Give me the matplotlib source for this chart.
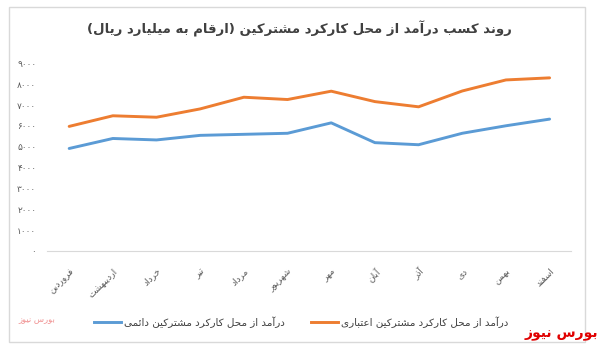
import matplotlib
matplotlib.use("Agg")
import matplotlib.pyplot as plt
from matplotlib.lines import Line2D
from matplotlib.patches import Rectangle

plt.rcParams['font.family'] = ['DejaVu Sans']

# presentation forms: isolated, final, initial, medial (None = does not join forward)
FORMS = {
    'ا': ('\uFE8D', '\uFE8E', None, None),
    'آ': ('\uFE81', '\uFE82', None, None),
    'ب': ('\uFE8F', '\uFE90', '\uFE91', '\uFE92'),
    'ت': ('\uFE95', '\uFE96', '\uFE97', '\uFE98'),
    'ح': ('\uFEA1', '\uFEA2', '\uFEA3', '\uFEA4'),
    'خ': ('\uFEA5', '\uFEA6', '\uFEA7', '\uFEA8'),
    'د': ('\uFEA9', '\uFEAA', None, None),
    'ذ': ('\uFEAB', '\uFEAC', None, None),
    'ر': ('\uFEAD', '\uFEAE', None, None),
    'ز': ('\uFEAF', '\uFEB0', None, None),
    'س': ('\uFEB1', '\uFEB2', '\uFEB3', '\uFEB4'),
    'ش': ('\uFEB5', '\uFEB6', '\uFEB7', '\uFEB8'),
    'ع': ('\uFEC9', '\uFECA', '\uFECB', '\uFECC'),
    'ف': ('\uFED1', '\uFED2', '\uFED3', '\uFED4'),
    'ق': ('\uFED5', '\uFED6', '\uFED7', '\uFED8'),
    'ل': ('\uFEDD', '\uFEDE', '\uFEDF', '\uFEE0'),
    'م': ('\uFEE1', '\uFEE2', '\uFEE3', '\uFEE4'),
    'ن': ('\uFEE5', '\uFEE6', '\uFEE7', '\uFEE8'),
    'ه': ('\uFEE9', '\uFEEA', '\uFEEB', '\uFEEC'),
    'و': ('\uFEED', '\uFEEE', None, None),
    'ئ': ('\uFE89', '\uFE8A', '\uFE8B', '\uFE8C'),
    'ک': ('\uFB8E', '\uFB8F', '\uFB90', '\uFB91'),
    'ی': ('\uFBFC', '\uFBFD', '\uFBFE', '\uFBFF'),
}


def fa(text):
    """Shape Persian text and put it in visual (left-to-right) order."""
    out = []
    for i, ch in enumerate(text):
        if ch not in FORMS:
            out.append(ch)
            continue
        prev = text[i - 1] if i > 0 else ''
        nxt = text[i + 1] if i + 1 < len(text) else ''
        joins_prev = prev in FORMS and FORMS[prev][2] is not None
        joins_next = nxt in FORMS and FORMS[ch][2] is not None
        iso, fin, ini, med = FORMS[ch]
        if joins_prev and joins_next:
            out.append(med)
        elif joins_prev:
            out.append(fin)
        elif joins_next:
            out.append(ini)
        else:
            out.append(iso)
    swap = {'(': ')', ')': '('}
    return ''.join(swap.get(c, c) for c in reversed(out))


def fa_digits(n):
    return str(n).translate(str.maketrans('0123456789', '۰۱۲۳۴۵۶۷۸۹'))


months = ['فروردین', 'اردیبهشت', 'خرداد', 'تیر', 'مرداد', 'شهریور',
          'مهر', 'آبان', 'آذر', 'دی', 'بهمن', 'اسفند']
permanent = [4920, 5400, 5330, 5550, 5600, 5650, 6150, 5200, 5100, 5650, 6010, 6330]
credit = [5980, 6490, 6420, 6820, 7380, 7270, 7670, 7170, 6920, 7680, 8210, 8310]
yticks = list(range(0, 10000, 1000))

title = 'روند کسب درآمد از محل کارکرد مشترکین (ارقام به میلیارد ریال)'
label_permanent = 'درآمد از محل کارکرد مشترکین دائمی'
label_credit = 'درآمد از محل کارکرد مشترکین اعتباری'

blue = '#5B9BD5'
orange = '#ED7D31'
grid_gray = '#D9D9D9'
text_gray = '#595959'

fig = plt.figure(figsize=(5.99, 3.45), dpi=100)
ax = fig.add_axes([0.079, 0.2725, 0.875, 0.5435])

x = list(range(len(months)))
ax.plot(x, credit, color=orange, lw=2.1, solid_capstyle='round')
ax.plot(x, permanent, color=blue, lw=2.1, solid_capstyle='round')

ax.set_xlim(-0.5, len(months) - 0.5)
ax.set_ylim(0, 9000)
ax.set_yticks(yticks)
ax.set_yticklabels([fa_digits(v) for v in yticks], fontsize=6.5, color=text_gray)
ax.set_xticks(x)
ax.set_xticklabels([fa(m) for m in months], fontsize=6.5, color=text_gray,
                   rotation=45, ha='right', rotation_mode='anchor')
ax.tick_params(axis='both', length=0)
ax.tick_params(axis='y', pad=8)
ax.tick_params(axis='x', pad=11)
for side in ('top', 'right', 'left'):
    ax.spines[side].set_visible(False)
ax.spines['bottom'].set_color(grid_gray)
ax.spines['bottom'].set_linewidth(0.8)

fig.text(0.5, 0.915, fa(title), ha='center', va='center',
         fontsize=9.5, fontweight='bold', color='#404040')

handles = [Line2D([], [], color=blue, lw=2.1),
           Line2D([], [], color=orange, lw=2.1)]
fig.legend(handles, [fa(label_permanent), fa(label_credit)],
           loc='center', bbox_to_anchor=(0.503, 1 - 322 / 345), ncol=2,
           frameon=False, fontsize=7.5, handlelength=2.6,
           handletextpad=0.3, columnspacing=2.5, labelcolor='#404040')

# outer chart frame
fig.patches.append(Rectangle((9 / 599, 1 - 342 / 345), 576 / 599, 335 / 345,
                             transform=fig.transFigure, fill=False,
                             edgecolor=grid_gray, lw=1))

fig.text(0.998, 1 - 334 / 345, fa('بورس نیوز'), ha='right', va='center',
         fontsize=10, fontweight='bold', color='#E00000')
fig.text(0.062, 1 - 320 / 345, fa('بورس نیوز'), ha='center', va='center',
         fontsize=6, color='#F09090')

fig.savefig('out.png', dpi=100)
